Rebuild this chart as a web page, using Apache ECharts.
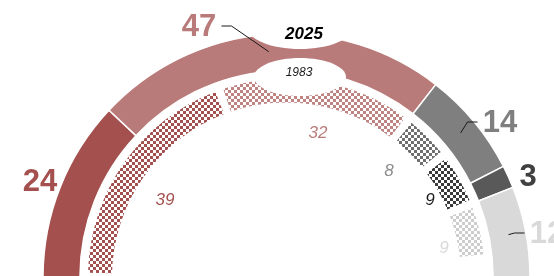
<!DOCTYPE html>
<html>
<head>
<meta charset="utf-8">
<script src="https://cdn.jsdelivr.net/npm/echarts@6/dist/echarts.min.js"></script>
<style>
  html, body { margin: 0; padding: 0; background: #fff; }
  #chart { width: 554px; height: 276px; }
</style>
</head>
<body>
<div id="chart"></div>
<script>
// seats per party, out of 100 on a half circle
const seats2025 = [24, 47, 14, 3, 12];
const seats1983 = [39, 32, 8, 9, 9];
const empty1983 = 3; // last party had no 1983 counterpart

const ringColors = ['#a4504e', '#b97b79', '#7f7f7f', '#595959', '#d9d9d9'];
const outerLabelColors = ['#a4504e', '#b97b79', '#7f7f7f', '#404040', '#d9d9d9'];
const patternColors = ['#a4504e', '#bd8482', '#6f6f6f', '#3a3a3a', '#cdcdcd'];
const innerLabelColors = ['#a4504e', '#b97b79', '#8c8c8c', '#1a1a1a', '#d9d9d9'];

// label placement (text only)
const outerLabelXY = [[40, 182], [199, 27], [500, 123], [528, 177], [547, 234]];
const outerLineSide = [null, 'right', 'left', null, 'left'];
const innerLabelXY = [[165, 200], [318, 133], [389, 171], [430, 200], [444, 248]];
const outerLabelWidth = 35;

const center = [286.5, 277];

function checker(color) {
  const c = document.createElement('canvas');
  c.width = 6;
  c.height = 6;
  const g = c.getContext('2d');
  g.fillStyle = color;
  g.fillRect(0, 0, 3, 3);
  g.fillRect(3, 3, 3, 3);
  return { image: c, repeat: 'repeat' };
}

const chart = echarts.init(document.getElementById('chart'), null, { renderer: 'canvas' });

const outerData = seats2025.map((v, i) => ({
  value: v,
  itemStyle: { color: ringColors[i] }
}));

const guideData = seats2025.map((v, i) => ({
  value: v,
  label: {
    color: outerLabelColors[i]
  },
  labelLine: { show: outerLineSide[i] != null }
}));

const innerData = seats1983.map((v, i) => ({
  value: v,
  itemStyle: { color: checker(patternColors[i]) },
  label: { color: innerLabelColors[i] }
}));
innerData.push({
  value: empty1983,
  itemStyle: { color: 'transparent' },
  label: { show: false }
});

chart.setOption({
  animation: false,
  backgroundColor: '#fff',
  series: [
    {
      // 2025 ring
      type: 'pie',
      center: center,
      radius: [206.5, 243.5],
      startAngle: 180,
      endAngle: 0,
      silent: true,
      z: 2,
      itemStyle: { borderColor: '#fff', borderWidth: 1.5 },
      label: { show: false },
      labelLine: { show: false },
      data: outerData
    },
    {
      // 1983 ring, checkered
      type: 'pie',
      center: center,
      radius: [174.5, 198.5],
      startAngle: 180,
      endAngle: 0,
      padAngle: 2.4,
      silent: true,
      z: 2,
      label: {
        show: true,
        position: 'inside',
        fontFamily: 'Liberation Sans',
        fontStyle: 'italic',
        fontSize: 17,
        formatter: '{c}'
      },
      labelLine: { show: false },
      labelLayout: function (p) {
        const xy = innerLabelXY[p.dataIndex];
        if (!xy) return {};
        return { x: xy[0], y: xy[1], align: 'center', verticalAlign: 'middle' };
      },
      data: innerData
    },
    {
      // invisible ring that carries the 2025 labels and leader lines
      type: 'pie',
      center: center,
      radius: [206.5, 226],
      startAngle: 180,
      endAngle: 0,
      silent: true,
      z: 10,
      itemStyle: { color: 'transparent' },
      label: {
        show: true,
        position: 'outside',
        width: outerLabelWidth,
        overflow: 'none',
        fontFamily: 'Liberation Sans',
        fontWeight: 'bold',
        fontSize: 31,
        formatter: '{c}'
      },
      labelLine: {
        length: 12,
        length2: 10,
        lineStyle: { color: '#1a1a1a', width: 1 }
      },
      labelLayout: function (p) {
        const i = p.dataIndex;
        const x = outerLabelXY[i][0];
        const y = outerLabelXY[i][1];
        const out = { x: x, y: y, align: 'center', verticalAlign: 'middle' };
        const side = outerLineSide[i];
        if (side && p.labelLinePoints) {
          const half = outerLabelWidth / 2;
          const edge = side === 'right' ? x + half + 5 : x - half - 5;
          const knee = side === 'right' ? edge + 10 : edge - 10;
          out.labelLinePoints = [p.labelLinePoints[0], [knee, y - 1], [edge, y - 1]];
        }
        return out;
      },
      data: guideData
    }
  ],
  graphic: [
    {
      type: 'ellipse',
      z: 5,
      silent: true,
      shape: { cx: 300, cy: 28, rx: 52, ry: 21 },
      style: { fill: '#fff' }
    },
    {
      type: 'ellipse',
      z: 5,
      silent: true,
      shape: { cx: 300, cy: 77, rx: 46, ry: 19 },
      style: { fill: '#fff' }
    },
    {
      type: 'text',
      z: 11,
      x: 304,
      y: 34,
      style: {
        text: '2025',
        font: 'italic bold 17px "Liberation Sans"',
        fill: '#000',
        align: 'center',
        verticalAlign: 'middle'
      }
    },
    {
      type: 'text',
      z: 11,
      x: 299,
      y: 73,
      style: {
        text: '1983',
        font: 'italic 12px "Liberation Sans"',
        fill: '#1a1a1a',
        align: 'center',
        verticalAlign: 'middle'
      }
    }
  ]
});
</script>
</body>
</html>
